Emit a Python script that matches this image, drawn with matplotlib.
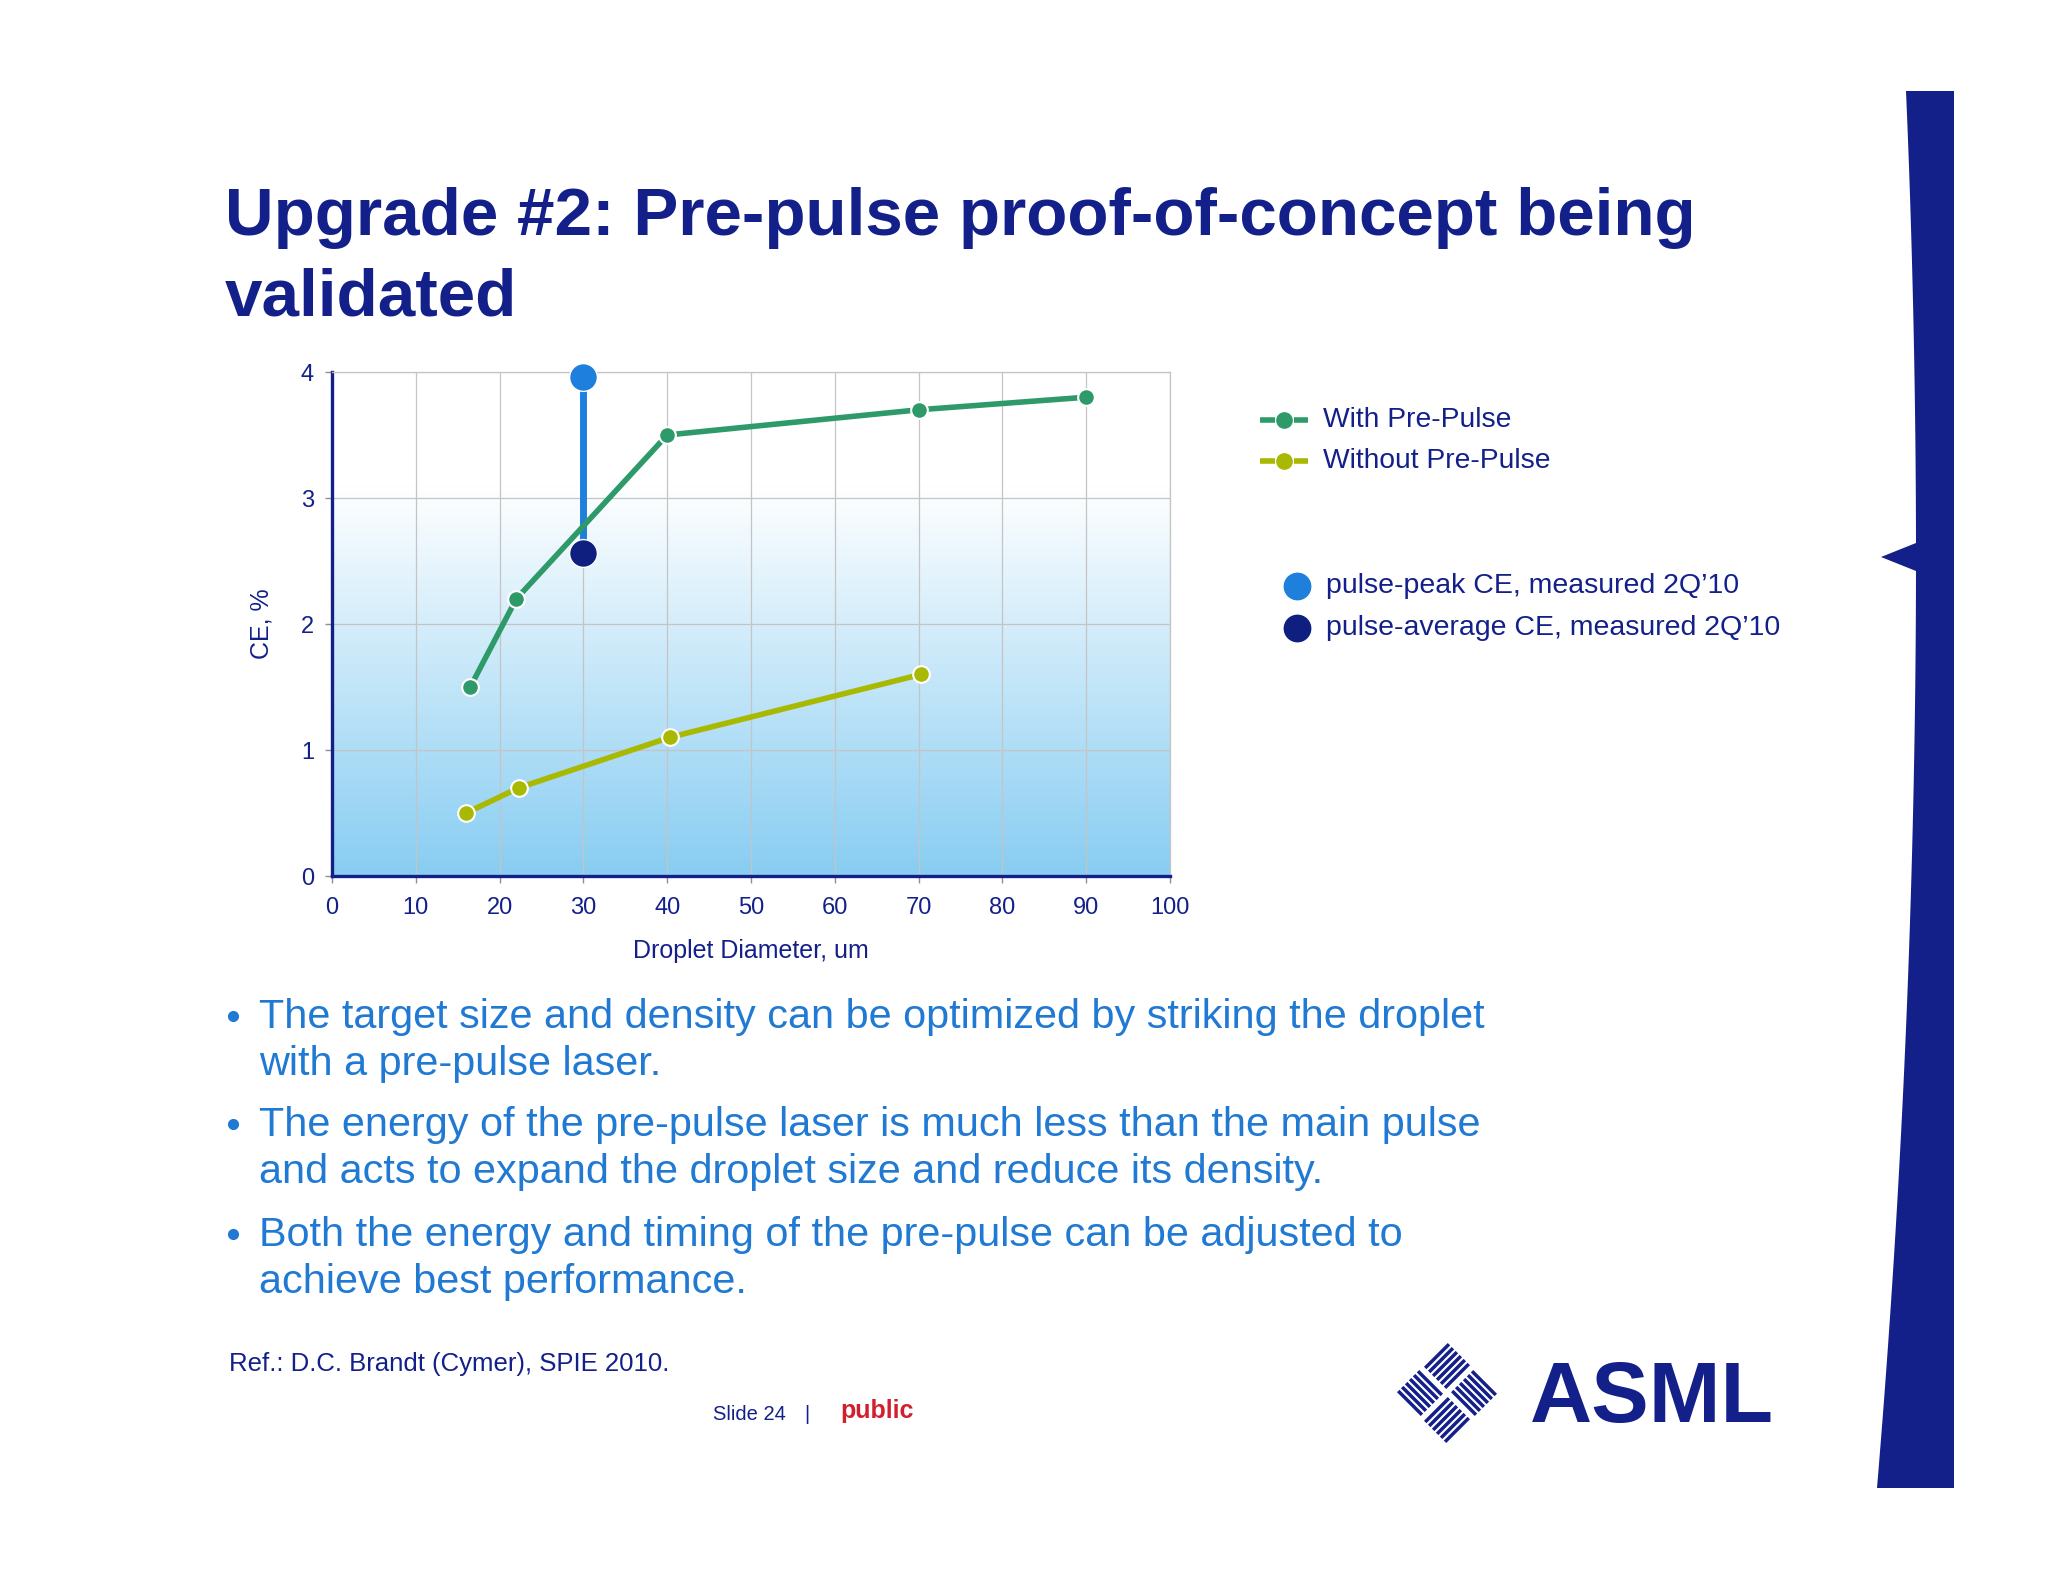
import numpy as np
import matplotlib
matplotlib.use('Agg')
import matplotlib.pyplot as plt

plt.rcParams['font.family'] = ['Liberation Sans', 'DejaVu Sans']

NAVY = '#14208A'
GREEN = '#2E9A6A'
YELLOW = '#A9B800'
PEAK = '#1E80DC'
AVG = '#0F1F80'
BLUE_TXT = '#2079D2'

# data
with_x = [16.5, 22, 40, 70, 90]
with_y = [1.5, 2.2, 3.5, 3.7, 3.8]
without_x = [16, 22.3, 40.3, 70.3]
without_y = [0.5, 0.7, 1.1, 1.6]
peak_x = [30]
peak_y = [3.96]
avg_x = [30]
avg_y = [2.56]

x_ticks = [0, 10, 20, 30, 40, 50, 60, 70, 80, 90, 100]
y_ticks = [0, 1, 2, 3, 4]

title_lines = ["Upgrade #2: Pre-pulse proof-of-concept being", "validated"]
bullets = [
    ["The target size and density can be optimized by striking the droplet",
     "with a pre-pulse laser."],
    ["The energy of the pre-pulse laser is much less than the main pulse",
     "and acts to expand the droplet size and reduce its density."],
    ["Both the energy and timing of the pre-pulse can be adjusted to",
     "achieve best performance."],
]

fig = plt.figure(figsize=(20.48, 15.82), dpi=100)
fig.patch.set_facecolor('white')

# overlay in pixel coords for slide decoration
deco = fig.add_axes([0, 0, 1, 1])
deco.set_xlim(0, 2048)
deco.set_ylim(1582, 0)
deco.axis('off')

# right navy band
yy_top = np.linspace(91, 543, 30)
xx_top = 1916 - 10 * ((557 - yy_top) / 466) ** 2
yy_bot = np.linspace(571, 1488, 40)
xx_bot = 1916 - 39 * ((yy_bot - 557) / 931) ** 2
band_x = [1954, 1954] + list(xx_bot[::-1]) + [1881] + list(xx_top[::-1])
band_y = [91, 1488] + list(yy_bot[::-1]) + [557] + list(yy_top[::-1])
deco.fill(band_x, band_y, color=NAVY, lw=0)

# title
deco.text(225, 235, title_lines[0], fontsize=48.5, fontweight='bold', color=NAVY, va='baseline')
deco.text(225, 315, title_lines[1], fontsize=48.5, fontweight='bold', color=NAVY, va='baseline')

# bullets
base = [1028, 1136, 1246]
for b, y0 in zip(bullets, base):
    deco.plot([233], [y0 - 12], 'o', ms=7, color=BLUE_TXT)
    for i, line in enumerate(b):
        deco.text(259, y0 + i * 47, line, fontsize=29.8, color=BLUE_TXT, va='baseline')

# footer
deco.text(229, 1371, "Ref.: D.C. Brandt (Cymer), SPIE 2010.", fontsize=18.5, color=NAVY, va='baseline')
deco.text(713, 1420, "Slide 24", fontsize=14.5, color=NAVY, va='baseline')
deco.text(804, 1420, "|", fontsize=14.5, color=NAVY, va='baseline')
deco.text(840, 1418, "public", fontsize=18, fontweight='bold', color='#D0202E', va='baseline')

# ASML logo
deco.text(1530, 1422, "ASML", fontsize=62, fontweight='bold', color=NAVY, va='baseline')
cx, cy, R = 1447, 1393, 54
h = R / 2
for (dx, dy), direc in [((0, -h), 1), ((h, 0), -1), ((0, h), 1), ((-h, 0), -1)]:
    qx, qy = cx + dx, cy + dy
    if direc == 1:
        along = np.array([1, -1]) / np.sqrt(2)
        across = np.array([1, 1]) / np.sqrt(2)
    else:
        along = np.array([1, 1]) / np.sqrt(2)
        across = np.array([1, -1]) / np.sqrt(2)
    s = h * np.sqrt(2) * 0.88
    for k in range(6):
        off = (k - 2.5) * s / 6
        c = np.array([qx, qy]) + across * off
        p1 = c - along * s / 2
        p2 = c + along * s / 2
        deco.plot([p1[0], p2[0]], [p1[1], p2[1]], color=NAVY, lw=2.5, solid_capstyle='butt')

# legends
for y, col, lab in [(420, GREEN, "With Pre-Pulse"), (461, YELLOW, "Without Pre-Pulse")]:
    deco.plot([1260, 1275], [y, y], color=col, lw=4, solid_capstyle='butt')
    deco.plot([1294, 1308], [y, y], color=col, lw=4, solid_capstyle='butt')
    deco.plot([1284], [y], 'o', ms=11, color=col)
    deco.text(1323, y, lab, fontsize=20.3, color=NAVY, va='center')
for y, col, lab in [(586, PEAK, "pulse-peak CE, measured 2Q\u201910"),
                    (628, AVG, "pulse-average CE, measured 2Q\u201910")]:
    deco.plot([1297], [y], 'o', ms=19, color=col)
    deco.text(1326, y, lab, fontsize=20.5, color=NAVY, va='center')

# chart
ax = fig.add_axes([332 / 2048, 1 - 876 / 1582, 838 / 2048, 504 / 1582])
yy = np.linspace(0, 4, 256)
t = np.clip((3.1 - yy) / 3.1, 0, 1)
top = np.array([1.0, 1.0, 1.0])
bot = np.array([0x88, 0xCD, 0xF2]) / 255
img = (top[None, :] * (1 - t[:, None]) + bot[None, :] * t[:, None])[:, None, :]
ax.imshow(img, extent=[0, 100, 0, 4], origin='lower', aspect='auto', zorder=0)

ax.set_xlim(0, 100)
ax.set_ylim(0, 4)
ax.set_xticks(x_ticks)
ax.set_yticks(y_ticks)
ax.grid(True, color='#C4C4C4', lw=0.9)
ax.set_axisbelow(True)

ax.plot(peak_x + avg_x, peak_y + avg_y, color=PEAK, lw=5, zorder=2, solid_capstyle='butt')
ax.plot(with_x, with_y, color=GREEN, lw=4, marker='o', ms=12, mfc=GREEN, mec='white', mew=1.5, zorder=3)
ax.plot(without_x, without_y, color=YELLOW, lw=4, marker='o', ms=12, mfc=YELLOW, mec='white', mew=1.5, zorder=3)
ax.plot(peak_x, peak_y, 'o', ms=20, color=PEAK, mec='white', mew=1, zorder=4, clip_on=False)
ax.plot(avg_x, avg_y, 'o', ms=20, color=AVG, mec='white', mew=1, zorder=4)

for sp in ['top', 'right']:
    ax.spines[sp].set_color('#C4C4C4')
    ax.spines[sp].set_linewidth(0.9)
for sp in ['left', 'bottom']:
    ax.spines[sp].set_color(NAVY)
    ax.spines[sp].set_linewidth(2.4)
ax.tick_params(axis='both', colors='#909090', labelcolor=NAVY, labelsize=17, length=5, width=1)
ax.tick_params(axis='x', pad=10)
ax.tick_params(axis='y', pad=8)

ax.set_xlabel("Droplet Diameter, um", fontsize=18, color=NAVY)
ax.set_ylabel("CE, %", fontsize=18, color=NAVY)
ax.xaxis.set_label_coords(0.5, -0.125)
ax.yaxis.set_label_coords(-0.07, 0.5)

fig.savefig('out.png', dpi=100)
